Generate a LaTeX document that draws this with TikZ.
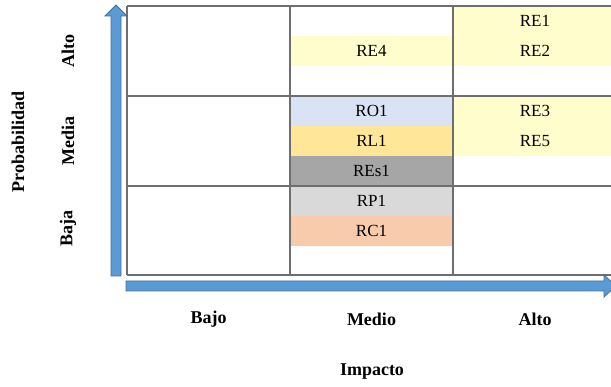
\documentclass[tikz,border=0pt]{standalone}
\usepackage{fontspec}
\setmainfont{Liberation Serif}
\definecolor{arrfill}{HTML}{5B9BD5}
\definecolor{arrdraw}{HTML}{41719C}
\definecolor{cyel}{HTML}{FFFDCC}
\definecolor{cblue}{HTML}{DAE3F3}
\definecolor{corange}{HTML}{FFE699}
\definecolor{cdgray}{HTML}{A6A6A6}
\definecolor{clgray}{HTML}{D9D9D9}
\definecolor{csalmon}{HTML}{F8CBAD}
\definecolor{gridc}{HTML}{6E6E6E}
\tikzset{
  celltext/.style={inner sep=0pt, font=\fontsize{17}{17}\selectfont},
  cell/.style={celltext, rectangle, minimum width=163pt, minimum height=30pt},
  lbl/.style={inner sep=0pt, font=\fontsize{18}{18}\selectfont\bfseries},
  gridline/.style={draw=gridc, line width=1.2pt},
  arrowshape/.style={fill=arrfill, draw=arrdraw, line width=0.8pt},
}
\begin{document}
\begin{tikzpicture}[x=1pt,y=-1pt]
\useasboundingbox (0,0) rectangle (611,387);
% fills
\node[cell, fill=cyel, minimum height=60pt] (b11) at (535,36) {};
\node[cell, fill=cyel] (re4) at (371.5,51) {RE4};
\node[celltext] (re1) at (535,21) {RE1};
\node[celltext] (re2) at (535,51) {RE2};
\node[cell, fill=cyel, minimum height=60pt] (b21) at (535,126) {};
\node[celltext] (re3) at (535,111) {RE3};
\node[celltext] (re5) at (535,141) {RE5};
\node[cell, fill=cblue] (ro1) at (371.5,111) {RO1};
\node[cell, fill=corange] (rl1) at (371.5,141) {RL1};
\node[cell, fill=cdgray] (res1) at (371.5,171) {REs1};
\node[cell, fill=clgray] (rp1) at (371.5,201) {RP1};
\node[cell, fill=csalmon] (rc1) at (371.5,231) {RC1};
% grid
\draw[gridline] (127,6) -- (620,6);
\draw[gridline] (127,96) -- (620,96);
\draw[gridline] (127,186) -- (620,186);
\draw[gridline] (127,275) -- (620,275);
\draw[gridline] (127,6) -- (127,275);
\draw[gridline] (290,6) -- (290,275);
\draw[gridline] (453,6) -- (453,275);
% arrows
\draw[arrowshape] (111,276) -- (111,16) -- (105,16) -- (116,5) -- (127,16) -- (121,16) -- (121,276) -- cycle;
\draw[arrowshape] (126,281) -- (604,281) -- (604,275) -- (616,286) -- (604,297) -- (604,291) -- (126,291) -- cycle;
% axis labels
\node[lbl] (bajo) at (208.5,319) {Bajo};
\node[lbl] (medio) at (371.5,319) {Medio};
\node[lbl] (alto) at (535,319) {Alto};
\node[lbl] (impacto) at (372,372) {Impacto};
\node[lbl, rotate=90] (palto) at (68,51) {Alto};
\node[lbl, rotate=90] (pmedia) at (68,141) {Media};
\node[lbl, rotate=90] (pbaja) at (68,229) {Baja};
\node[lbl, rotate=90] (prob) at (18,142) {Probabilidad};
\end{tikzpicture}
\end{document}
